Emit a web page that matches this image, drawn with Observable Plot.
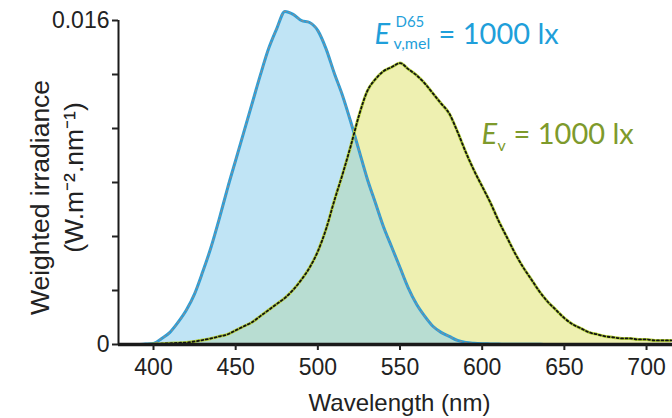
<!DOCTYPE html>
<html><head><meta charset="utf-8">
<script src="https://cdn.jsdelivr.net/npm/d3@7"></script>
<script src="https://cdn.jsdelivr.net/npm/@observablehq/plot@0.6"></script>
<style>body{margin:0;background:#fff}</style>
</head><body><div id="chart"></div>
<script>
const wavelength = [380,385,390,395,400,405,410,415,420,425,430,435,440,445,450,455,460,465,470,475,480,485,490,495,500,505,510,515,520,525,530,535,540,545,550,555,560,565,570,575,580,585,590,595,600,605,610,615,620,625,630,635,640,645,650,655,660,665,670,675,680,685,690,695,700,705,710,715];
const melanopic = [0,0,0,0.00002,0.00005,0.0003,0.0006,0.0011,0.0017,0.0025,0.0036,0.0048,0.0062,0.0077,0.0091,0.0105,0.0119,0.0133,0.0146,0.0156,0.01645,0.0163,0.0160,0.0159,0.0155,0.0146,0.0134,0.0123,0.0110,0.0096,0.0082,0.0070,0.0058,0.0048,0.0038,0.0028,0.0020,0.0014,0.0009,0.0006,0.0004,0.0002,0.0001,0.00006,0.00004,0.00003,0.00002,0.00001,0.00001,0.00001,0.00001,0.00001,0,0,0,0,0,0,0,0,0,0,0,0,0,0,0,0];
const photopic = [0,0,0,0,0.00002,0.00004,0.00006,0.00008,0.0001,0.00015,0.00022,0.0003,0.0004,0.0005,0.0007,0.0009,0.0011,0.0014,0.0017,0.0020,0.0023,0.0027,0.0032,0.0038,0.0046,0.0057,0.0071,0.0084,0.0098,0.0113,0.0125,0.0131,0.0135,0.0137,0.0139,0.0136,0.0133,0.0129,0.0124,0.0119,0.0114,0.0105,0.0095,0.0086,0.0078,0.0070,0.0061,0.0053,0.0045,0.0038,0.0032,0.0026,0.0021,0.0017,0.0013,0.0010,0.0008,0.0006,0.0005,0.0004,0.00035,0.0003,0.0003,0.00025,0.00025,0.0002,0.0002,0.0002];
const xTicks = [400,450,500,550,600,650,700];
const yTicks = [0,0.0026667,0.0053333,0.008,0.0106667,0.0133333,0.016];
const yTickLabels = ["0","","","","","","0.016"];

const rows = wavelength.map((w,i)=>({w, mel: melanopic[i], phot: photopic[i]}));
const blue = "#1f9fda", green = "#7e9a2c";
const curve = "monotone-x";
const annoFont = "Lato, 'Open Sans', sans-serif";

const chart = Plot.plot({
  width: 672, height: 418,
  marginLeft: 118, marginRight: 0, marginTop: 20, marginBottom: 74,
  style: {fontFamily: "'Liberation Sans', Arial, sans-serif", fontSize: "23px", color: "#222", background: "#fff", overflow: "visible"},
  x: {domain: [378.7, 715.8]},
  y: {domain: [0, 0.016]},
  marks: [
    Plot.areaY(rows, {x: "w", y: "phot", fill: "#eef0b1", curve}),
    Plot.areaY(rows, {x: "w", y: "mel", fill: "#8ccdec", fillOpacity: 0.55, curve}),
    Plot.lineY(rows, {x: "w", y: "mel", stroke: "#2a9fd8", strokeWidth: 3, curve}),
    Plot.lineY(rows, {x: "w", y: "mel", stroke: "#8a8d93", strokeWidth: 1.3, strokeDasharray: "2,3", curve}),
    Plot.lineY(rows, {x: "w", y: "phot", stroke: "#b4d03c", strokeWidth: 3, curve}),
    Plot.lineY(rows, {x: "w", y: "phot", stroke: "#111", strokeWidth: 1.8, strokeDasharray: "2,2.5", curve}),
    Plot.ruleY([0], {stroke: "#1a1a1a", strokeWidth: 3.5}),
    Plot.ruleX([378.7], {y1: 0, y2: 0.016, stroke: "#1a1a1a", strokeWidth: 2}),
    Plot.axisX(xTicks, {anchor: "bottom", tickSize: 6, tickPadding: 8, strokeWidth: 2, fontSize: 23, label: null, tickFormat: d => String(d)}),
    Plot.axisY(yTicks, {anchor: "left", tickSize: 6, tickPadding: 3, strokeWidth: 2, fontSize: 23, label: null, tickFormat: (d, i) => yTickLabels[i]}),
    Plot.text(["Wavelength (nm)"], {frameAnchor: "bottom", dx: 4, dy: 59, lineAnchor: "middle", fontSize: 24, fill: "#222"}),
    Plot.text(["Weighted irradiance"], {frameAnchor: "left", rotate: -90, textAnchor: "middle", dx: -78, dy: 15, lineAnchor: "middle", fontSize: 26.5, fill: "#222"}),
    Plot.text(["(W.m\u207B\u00B2.nm\u207B\u00B9)"], {frameAnchor: "left", rotate: -90, textAnchor: "middle", dx: -44, dy: -5, lineAnchor: "middle", fontSize: 26.5, fill: "#222"}),
    // melanopic annotation
    Plot.text(["E"], {frameAnchor: "top-left", dx: 256, dy: 23, lineAnchor: "bottom", textAnchor: "start", fontSize: 29, fontStyle: "italic", fontFamily: annoFont, fill: blue}),
    Plot.text(["D65"], {frameAnchor: "top-left", dx: 277, dy: 6, lineAnchor: "bottom", textAnchor: "start", fontSize: 15, fontFamily: annoFont, fill: blue}),
    Plot.text(["v,mel"], {frameAnchor: "top-left", dx: 275, dy: 28, lineAnchor: "bottom", textAnchor: "start", fontSize: 16, fontFamily: annoFont, fill: blue}),
    Plot.text(["= 1000 lx"], {frameAnchor: "top-left", dx: 320, dy: 23, lineAnchor: "bottom", textAnchor: "start", fontSize: 29, fontFamily: annoFont, fill: blue}),
    // photopic annotation
    Plot.text(["E"], {frameAnchor: "top-left", dx: 363, dy: 123, lineAnchor: "bottom", textAnchor: "start", fontSize: 29, fontStyle: "italic", fontFamily: annoFont, fill: green}),
    Plot.text(["v"], {frameAnchor: "top-left", dx: 379, dy: 130, lineAnchor: "bottom", textAnchor: "start", fontSize: 16, fontFamily: annoFont, fill: green}),
    Plot.text(["= 1000 lx"], {frameAnchor: "top-left", dx: 395, dy: 123, lineAnchor: "bottom", textAnchor: "start", fontSize: 29, fontFamily: annoFont, fill: green})
  ]
});
document.getElementById("chart").appendChild(chart);
</script>
</body></html>
